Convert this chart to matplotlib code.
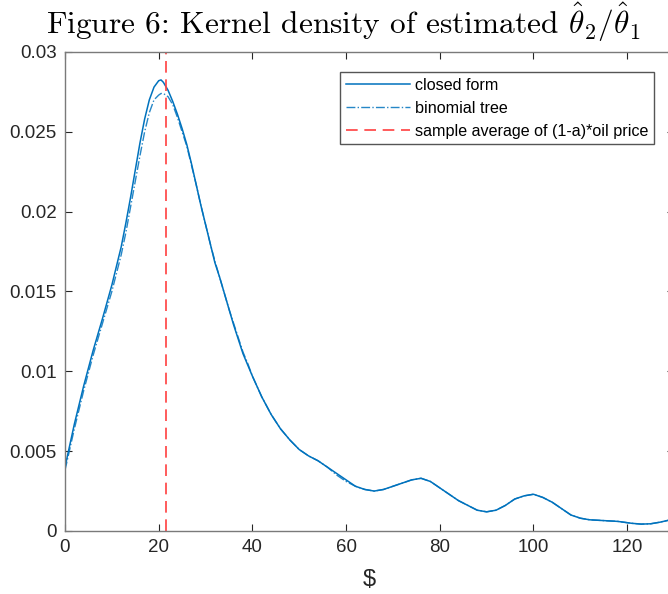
import matplotlib.pyplot as plt
from matplotlib.ticker import FixedLocator

plt.rcParams['font.family'] = ['Liberation Sans', 'DejaVu Sans']
plt.rcParams['mathtext.fontset'] = 'cm'

# Kernel density values
price = [0, 2, 4, 6, 8, 10, 12, 13, 14, 15, 16, 17, 18, 19, 20, 20.5, 21, 22, 23, 24,
         25, 26, 27, 28, 29, 30, 31, 32, 33, 34, 35, 36, 37, 38, 39, 40, 42, 44, 46, 48,
         50, 52, 54, 56, 58, 60, 62, 64, 66, 68, 70, 72, 74, 76, 78, 80, 82, 84, 86, 88,
         90, 92, 94, 96, 98, 100, 102, 104, 106, 108, 110, 112, 115, 118, 121, 123, 125, 127, 130]
closed_form = [0.0040, 0.0067, 0.0091, 0.0113, 0.0133, 0.0154, 0.0178, 0.0193, 0.0209, 0.0226,
               0.0243, 0.0258, 0.0270, 0.0278, 0.0282, 0.02825, 0.0281, 0.0276, 0.0269, 0.0261,
               0.0252, 0.0242, 0.0230, 0.0217, 0.0204, 0.0192, 0.0180, 0.0168, 0.0159, 0.0149,
               0.0139, 0.0129, 0.0120, 0.0111, 0.0104, 0.0097, 0.0084, 0.0073, 0.0064, 0.0057,
               0.0051, 0.0047, 0.0044, 0.0040, 0.0036, 0.0032, 0.0028, 0.0026, 0.0025, 0.0026,
               0.0028, 0.0030, 0.0032, 0.0033, 0.0031, 0.0027, 0.0023, 0.0019, 0.0016, 0.0013,
               0.0012, 0.0013, 0.0016, 0.0020, 0.0022, 0.0023, 0.0021, 0.0018, 0.0014, 0.0010,
               0.0008, 0.0007, 0.00065, 0.0006, 0.00048, 0.00043, 0.00045, 0.00055, 0.00075]
binomial_tree = [0.0038, 0.0064, 0.0088, 0.0110, 0.0130, 0.0150, 0.0173, 0.0187, 0.0203, 0.0219,
                 0.0235, 0.0250, 0.0262, 0.0270, 0.0273, 0.0274, 0.0274, 0.0272, 0.0267, 0.0259,
                 0.0250, 0.0241, 0.0229, 0.0217, 0.0204, 0.0192, 0.0180, 0.0169, 0.0159, 0.0149,
                 0.0139, 0.0130, 0.0121, 0.0112, 0.0105, 0.0097, 0.0084, 0.0073, 0.0064, 0.0057,
                 0.0051, 0.0047, 0.0044, 0.0040, 0.0035, 0.0031, 0.0028, 0.0026, 0.0025, 0.0026,
                 0.0028, 0.0030, 0.0032, 0.0033, 0.0031, 0.0027, 0.0023, 0.0019, 0.0016, 0.0013,
                 0.0012, 0.0013, 0.0016, 0.0020, 0.0022, 0.0023, 0.0021, 0.0018, 0.0014, 0.0010,
                 0.0008, 0.0007, 0.00065, 0.0006, 0.00048, 0.00043, 0.00045, 0.00055, 0.00075]
avg_price = 21.6

yticks = [0, 0.005, 0.01, 0.015, 0.02, 0.025, 0.03]
ytick_labels = ['0', '0.005', '0.01', '0.015', '0.02', '0.025', '0.03']
xticks = [0, 20, 40, 60, 80, 100, 120]

fig = plt.figure(figsize=(6.68, 5.94), dpi=100)
ax = fig.add_axes([0.0973, 0.1061, 0.9117, 0.8064])

blue = '#0072bd'
ax.plot(price, closed_form, '-', color=blue, lw=1.1, label='closed form')
ax.plot(price, binomial_tree, '-.', color=blue, lw=1.0, alpha=0.85, label='binomial tree')
ax.axvline(avg_price, color='#ff4040', lw=1.2, dashes=(7, 4),
           label='sample average of (1-a)*oil price')

ax.set_xlim(0, 130)
ax.set_ylim(0, 0.03)
ax.xaxis.set_major_locator(FixedLocator(xticks))
ax.set_yticks(yticks)
ax.set_yticklabels(ytick_labels)

ax.tick_params(direction='in', length=5, width=0.8, top=True, right=True,
               labelsize=13.5, labelcolor='#262626', color='#262626', pad=6)
for s in ax.spines.values():
    s.set_color('#7a7a7a')
    s.set_linewidth(1.0)

ax.set_xlabel('$', fontsize=17, color='#262626', labelpad=9)

leg = ax.legend(loc='upper right', bbox_to_anchor=(654 / 668, 0.9125 - 20 / 594),
                bbox_transform=fig.transFigure, fontsize=11.6, frameon=True, fancybox=False,
                framealpha=1, edgecolor='#555555', handlelength=4.0, borderpad=0.35,
                labelspacing=0.5, handletextpad=0.3, borderaxespad=0)
leg.get_frame().set_linewidth(1.0)

fig.text(343 / 668, 0.962, r'Figure 6: Kernel density of estimated $\hat{\theta}_2/\hat{\theta}_1$',
         ha='center', va='center', fontsize=22.6, family='cmr10')

fig.savefig('out.png', dpi=100)
